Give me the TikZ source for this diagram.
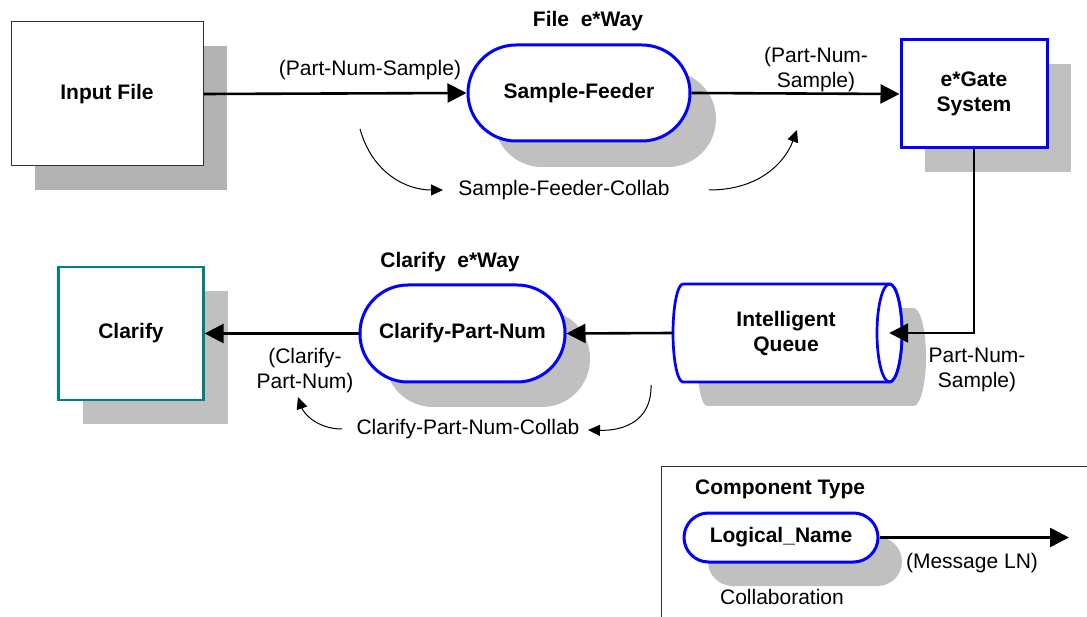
\documentclass[tikz,border=0pt]{standalone}
\usepackage{fontspec}
\setmainfont{Liberation Sans}
\usetikzlibrary{arrows.meta,shadows,calc}
\definecolor{shA}{RGB}{179,179,179}
\definecolor{shB}{RGB}{192,192,192}
\definecolor{pblue}{RGB}{0,0,255}
\definecolor{tealb}{RGB}{0,128,128}
\begin{document}
\begin{tikzpicture}[x=1pt,y=-1pt,
  every node/.style={font=\fontsize{21}{25}\selectfont, inner sep=0pt, align=center},
  bf/.style={font=\fontsize{21}{25}\selectfont\bfseries},
  sh/.style={drop shadow={shadow xshift=#1, shadow yshift=-#1, fill=shB, opacity=1}},
  shgrey/.style={drop shadow={shadow xshift=24pt, shadow yshift=-24pt, fill=shA, opacity=1}},
  pill/.style={draw=pblue, line width=3pt, fill=white, rounded corners=#1, bf},
  flow/.style={line width=2.6pt, -{Triangle[length=19pt,width=19pt]}},
  collab/.style={line width=1pt, -{Triangle[length=12pt,width=11pt]}}
]
\useasboundingbox (0,0) rectangle (1087,617);

% Input File
\node[draw=black!80, line width=1pt, fill=white, minimum width=192pt, minimum height=144pt, bf, shgrey] (inp) at (107,94) {Input File};

% Sample-Feeder
\node[pill=48pt, minimum width=222pt, minimum height=96pt, sh=26pt] (sf) at (579,93) {Sample-Feeder};
\node[bf] (t1) at (588,21) {File\ \ e*Way};

% e*Gate
\node[draw=pblue, line width=3pt, fill=white, minimum width=146pt, minimum height=108pt, bf, sh=24pt] (gate) at (974,94) {e*Gate\\System};

% Intelligent Queue (cylinder)
\begin{scope}[shift={(24,24)}]
\fill[shB] (683,284) -- (889.5,284) .. controls (896.4,284) and (902,306) .. (902,333)
  .. controls (902,360) and (896.4,382) .. (889.5,382) -- (683,382)
  .. controls (677.5,382) and (673,360) .. (673,333)
  .. controls (673,306) and (677.5,284) .. (683,284) -- cycle;
\end{scope}
\draw[pblue, line width=2.7pt, fill=white] (683,284) -- (889.5,284) .. controls (896.4,284) and (902,306) .. (902,333)
  .. controls (902,360) and (896.4,382) .. (889.5,382) -- (683,382)
  .. controls (677.5,382) and (673,360) .. (673,333)
  .. controls (673,306) and (677.5,284) .. (683,284) -- cycle;
\draw[pblue, line width=2.7pt] (889.5,333) ellipse [x radius=12.5pt, y radius=49pt];
\node[bf, minimum width=206pt, minimum height=98pt] (queue) at (786,333) {Intelligent\\Queue};

% Clarify-Part-Num
\node[pill=48pt, minimum width=205pt, minimum height=97pt, sh=25pt] (cpn) at (462.5,333.5) {Clarify-Part-Num};
\node[bf] (t2) at (450,262) {Clarify\ \ e*Way};

% Clarify
\node[draw=tealb, line width=2.3pt, fill=white, minimum width=145pt, minimum height=133pt, bf, sh=24pt] (clar) at (131,333.5) {Clarify};

% Main flow connectors
\draw[flow] (inp.east) -- (sf.west);
\draw[flow] (sf.east) -- (gate.west);
\draw[flow] (gate.south) |- (queue.east);
\draw[flow] ([xshift=-10pt]queue.west) -- (cpn.east);
\draw[flow] (cpn.west) -- (clar.east);

% Message labels
\node (l1) at (370,70) {(Part-Num-Sample)};
\node (l2) at (816,69.5) {(Part-Num-\\Sample)};
\node (l3) at (977,369.5) {Part-Num-\\Sample)};
\node (l4) at (305,370.5) {(Clarify-\\Part-Num)};

% Collaborations
\node (sfc) at (564,190) {Sample-Feeder-Collab};
\node (cpc) at (468,429) {Clarify-Part-Num-Collab};
\coordinate (c1s) at (360,129);
\coordinate (c1e) at (443,190);
\coordinate (c2s) at (709,190);
\coordinate (c2e) at (797,130);
\coordinate (c3s) at (651,385);
\coordinate (c3e) at (588,430);
\coordinate (c4s) at (342,429);
\coordinate (c4e) at (298,397);
\draw[collab] (c1s) .. controls (372,172) and (405,190) .. (c1e);
\draw[collab] (c2s) .. controls (760,190) and (785,162) .. (c2e);
\draw[collab] (c3s) .. controls (652,420) and (625,431) .. (c3e);
\draw[collab] (c4s) .. controls (318,429) and (304,414) .. (c4e);

% Legend
\draw[line width=1pt, black!80] (1090,466) -| (661,620);
\node[bf, anchor=west] (ct) at (695,489) {Component Type};
\node[pill=24.5pt, minimum width=194pt, minimum height=49pt, sh=24pt] (lp) at (781,537.5) {Logical\_Name};
\coordinate (lend) at (1069,537.5);
\draw[flow] (lp.east) -- (lend);
\node (msg) at (972,563) {(Message LN)};
\node (col) at (782,597) {Collaboration};
\end{tikzpicture}
\end{document}
